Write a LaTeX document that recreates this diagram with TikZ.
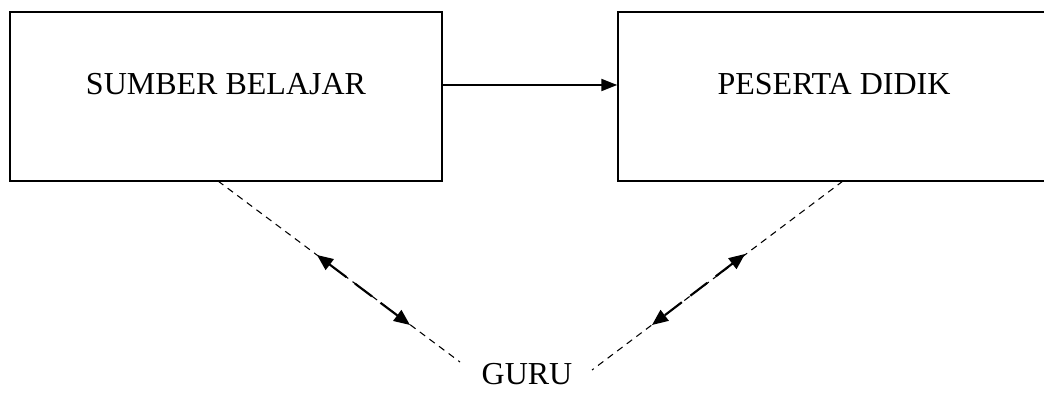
\documentclass[tikz,border=0pt]{standalone}
\usepackage{fontspec}
\setmainfont{Liberation Serif}
\usetikzlibrary{arrows.meta}
\begin{document}
\begin{tikzpicture}[x=0.75pt,y=-0.75pt,
  boxstyle/.style={draw,line width=1.1pt,minimum width=432*0.75pt,minimum height=169*0.75pt,inner sep=0pt},
  lbl/.style={font=\fontsize{24}{28}\selectfont},
  dashline/.style={line width=0.8pt,dash pattern=on 5pt off 4pt},
  biarrow/.style={{Triangle[length=12pt,width=10pt]}-{Triangle[length=12pt,width=10pt]},line width=1.6pt,dash pattern=on 16pt off 8pt},
  flowarrow/.style={-{Triangle[length=12pt,width=9pt]},line width=1.5pt}]
\useasboundingbox (0,0) rectangle (1044,392);
\node[boxstyle] (sb) at (226,96.5) {};
\node[boxstyle] (pd) at (834,96.5) {};
\node[lbl] (sbt) at (226,84) {SUMBER BELAJAR};
\node[lbl] (pdt) at (834,84) {PESERTA DIDIK};
\node[lbl] (guru) at (527,374) {GURU};
\draw[flowarrow] (sb.east |- 0,85) -- (pd.west |- 0,85);
\coordinate (l1) at (218,181);
\coordinate (l2) at (460,362);
\coordinate (r1) at (843,181);
\coordinate (r2) at (592,370);
\draw[dashline] (l1) -- (l2);
\draw[dashline] (r1) -- (r2);
\coordinate (la) at (317,255);
\coordinate (lb) at (410,325);
\coordinate (ra) at (745,254);
\coordinate (rb) at (652,325);
\draw[biarrow] (la) -- (lb);
\draw[biarrow] (ra) -- (rb);
\end{tikzpicture}
\end{document}
